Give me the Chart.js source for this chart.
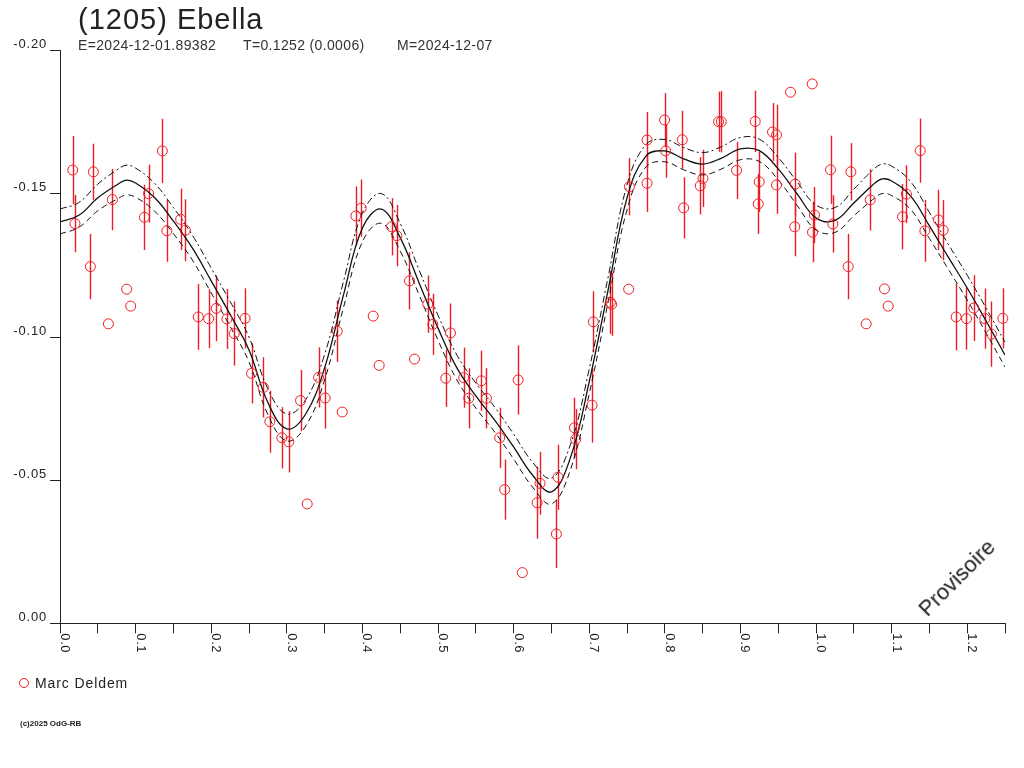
<!DOCTYPE html>
<html lang="fr">
<head>
<meta charset="UTF-8">
<title>(1205) Ebella</title>
<script src="https://cdn.jsdelivr.net/npm/chart.js"></script>
<style>
body { margin: 0; background: #fff; font-family: "Liberation Sans", Arial, sans-serif; color: #222; }
#wrap { position: relative; width: 1024px; height: 768px; overflow: hidden; }
canvas { position: absolute; left: 0; top: 0; }
.txt { position: absolute; white-space: pre; }
#title { left: 78px; top: 5px; font-size: 29px; line-height: 29px; letter-spacing: 1px; }
.sub { top: 38px; font-size: 14px; line-height: 14px; letter-spacing: 0.35px; color: #333; }
#legmark { position: absolute; left: 19px; top: 678px; width: 10px; height: 10px; box-sizing: border-box; border: 1px solid #ee1c25; border-radius: 50%; }
#legtxt { left: 35px; top: 676px; font-size: 14px; line-height: 14px; letter-spacing: 0.9px; }
#copy { left: 20px; top: 720px; font-size: 8px; line-height: 8px; font-weight: bold; }
#prov { left: 957px; top: 578px; font-size: 22px; line-height: 22px; transform: translate(-50%, -50%) rotate(-45deg); }
</style>
</head>
<body>
<div id="wrap">
<canvas id="lc" width="1024" height="768"></canvas>
<div class="txt" id="title">(1205) Ebella</div>
<div class="txt sub" style="left:78px">E=2024-12-01.89382</div>
<div class="txt sub" style="left:243px">T=0.1252 (0.0006)</div>
<div class="txt sub" style="left:397px">M=2024-12-07</div>
<div id="legmark"></div>
<div class="txt" id="legtxt">Marc Deldem</div>
<div class="txt" id="copy">(c)2025 OdG-RB</div>
<div class="txt" id="prov">Provisoire</div>
</div>

<script>
// measurements: phase, relative magnitude, error (null = no error bar)
const phase = [
  0.0168, 0.0198, 0.0442, 0.0402, 0.0693, 0.0882, 0.0935, 0.0640, 0.1354, 0.1172,
  0.1116, 0.1414, 0.1596, 0.1658, 0.1829, 0.1966, 0.2067, 0.2208, 0.2305, 0.2448,
  0.2534, 0.2689, 0.2776, 0.2935, 0.3027, 0.3182, 0.3270, 0.3420, 0.3508, 0.3733,
  0.3667, 0.3913, 0.3984, 0.4143, 0.4222, 0.4385, 0.4455, 0.4623, 0.4689, 0.4865,
  0.4931, 0.5165, 0.5103, 0.5340, 0.5407, 0.5574, 0.5641, 0.5816, 0.5882, 0.6060,
  0.6116, 0.6311, 0.6350, 0.6588, 0.6566, 0.6804, 0.6821, 0.7038, 0.7055, 0.7280,
  0.7297, 0.7522, 0.7531, 0.7765, 0.7765, 0.7997, 0.8011, 0.8231, 0.8249, 0.8469,
  0.8505, 0.8711, 0.8747, 0.8949, 0.9196, 0.9249, 0.9236, 0.9425, 0.9478, 0.9478,
  0.9663, 0.9725, 0.9719, 0.9950, 0.9980, 0.9954,
  1.0192, 1.0223, 1.0461, 1.0426, 1.0717, 1.0906, 1.0955, 1.0664, 1.1378, 1.1196,
  1.1144, 1.1440, 1.1620, 1.1682, 1.1854, 1.1990, 1.2087, 1.2233, 1.2320, 1.2471
];
const mag = [
  -0.1583, -0.1396, -0.1577, -0.1246, -0.1480, -0.1167, -0.1108, -0.1046, -0.1650, -0.1501,
  -0.1418, -0.1371, -0.1411, -0.1373, -0.1070, -0.1064, -0.1100, -0.1063, -0.1012, -0.1065,
  -0.0873, -0.0824, -0.0704, -0.0648, -0.0634, -0.0778, -0.0417, -0.0859, -0.0787, -0.0738,
  -0.1020, -0.1423, -0.1450, -0.1073, -0.0901, -0.1385, -0.1354, -0.1196, -0.0923, -0.1115,
  -0.1044, -0.1014, -0.0856, -0.0858, -0.0786, -0.0847, -0.0786, -0.0648, -0.0467, -0.0850,
  -0.0177, -0.0421, -0.0489, -0.0510, -0.0312, -0.0683, -0.0643, -0.0762, -0.1053, -0.1121,
  -0.1114, -0.1167, -0.1525, -0.1688, -0.1537, -0.1758, -0.1650, -0.1689, -0.1451, -0.1528,
  -0.1554, -0.1752, -0.1752, -0.1582, -0.1753, -0.1542, -0.1465, -0.1716, -0.1706, -0.1531,
  -0.1855, -0.1534, -0.1385, -0.1884, -0.1426, -0.1366,
  -0.1584, -0.1395, -0.1577, -0.1246, -0.1479, -0.1168, -0.1108, -0.1046, -0.1651, -0.1499,
  -0.1420, -0.1371, -0.1409, -0.1373, -0.1070, -0.1064, -0.1101, -0.1064, -0.1010, -0.1065
];
const magErr = [
  0.0119, 0.0100, 0.0098, 0.0114, 0.0107, null, null, null, 0.0112, 0.0101,
  0.0114, 0.0108, 0.0107, 0.0108, 0.0115, 0.0103, 0.0115, 0.0105, 0.0112, 0.0105,
  0.0105, 0.0105, 0.0108, 0.0107, 0.0107, 0.0107, null, 0.0105, 0.0107, null,
  0.0107, 0.0103, 0.0100, null, null, 0.0100, 0.0107, 0.0100, null, 0.0100,
  0.0107, 0.0103, 0.0100, 0.0105, 0.0105, 0.0105, 0.0105, 0.0105, 0.0105, 0.0121,
  null, 0.0126, 0.0110, 0.0114, 0.0119, 0.0105, 0.0105, 0.0131, 0.0107, 0.0110,
  0.0110, null, 0.0100, 0.0098, 0.0100, 0.0094, 0.0094, 0.0101, 0.0107, 0.0100,
  0.0100, 0.0105, 0.0107, 0.0100, 0.0107, 0.0105, 0.0105, 0.0101, 0.0105, 0.0101,
  null, 0.0110, 0.0103, null, 0.0098, 0.0105,
  0.0119, 0.0100, 0.0100, 0.0114, 0.0107, null, null, null, 0.0112, 0.0101,
  0.0114, 0.0108, 0.0105, 0.0105, 0.0117, 0.0108, 0.0115, 0.0105, 0.0114, 0.0105
];

// fitted lightcurve and its envelope
const fitPhase = [
  0, 0.025, 0.05, 0.075, 0.0875, 0.1, 0.125, 0.15, 0.175, 0.2,
  0.225, 0.25, 0.275, 0.3, 0.325, 0.35, 0.375, 0.4, 0.425, 0.45,
  0.475, 0.5, 0.525, 0.55, 0.575, 0.6, 0.625, 0.65, 0.675, 0.7,
  0.725, 0.75, 0.775, 0.8, 0.825, 0.85, 0.875, 0.9, 0.925, 0.95,
  0.975, 1.0, 1.025, 1.05, 1.075, 1.0875, 1.1, 1.125, 1.15, 1.175,
  1.2, 1.225, 1.25
];
const fitMag = [
  -0.1402, -0.1425, -0.1486, -0.1531, -0.1548, -0.1538, -0.1487, -0.1405, -0.1311, -0.1196,
  -0.1079, -0.0955, -0.0771, -0.0679, -0.0731, -0.0892, -0.1147, -0.1381, -0.1447, -0.1347,
  -0.1189, -0.1031, -0.0892, -0.0794, -0.0710, -0.0616, -0.0518, -0.0459, -0.0577, -0.0843,
  -0.1164, -0.1486, -0.1632, -0.1650, -0.1622, -0.1604, -0.1625, -0.1657, -0.1651, -0.1587,
  -0.1500, -0.1416, -0.1407, -0.1468, -0.1531, -0.1552, -0.1545, -0.1493, -0.1388, -0.1279,
  -0.1171, -0.1056, -0.0937
];
const fitUpper = [
  -0.1447, -0.1470, -0.1534, -0.1583, -0.1600, -0.1590, -0.1537, -0.1452, -0.1356, -0.1241,
  -0.1124, -0.1000, -0.0819, -0.0731, -0.0781, -0.0939, -0.1194, -0.1433, -0.1501, -0.1397,
  -0.1234, -0.1076, -0.0937, -0.0839, -0.0755, -0.0661, -0.0563, -0.0507, -0.0623, -0.0888,
  -0.1209, -0.1531, -0.1672, -0.1690, -0.1662, -0.1644, -0.1665, -0.1697, -0.1691, -0.1627,
  -0.1542, -0.1461, -0.1452, -0.1516, -0.1583, -0.1604, -0.1597, -0.1543, -0.1435, -0.1324,
  -0.1216, -0.1101, -0.0982
];
const fitLower = [
  -0.1360, -0.1383, -0.1441, -0.1481, -0.1496, -0.1488, -0.1440, -0.1361, -0.1269, -0.1154,
  -0.1037, -0.0913, -0.0729, -0.0637, -0.0689, -0.0850, -0.1103, -0.1333, -0.1397, -0.1300,
  -0.1147, -0.0989, -0.0850, -0.0752, -0.0668, -0.0574, -0.0476, -0.0417, -0.0535, -0.0801,
  -0.1122, -0.1444, -0.1594, -0.1612, -0.1584, -0.1566, -0.1587, -0.1619, -0.1613, -0.1549,
  -0.1460, -0.1374, -0.1365, -0.1423, -0.1480, -0.1501, -0.1494, -0.1446, -0.1344, -0.1237,
  -0.1129, -0.1014, -0.0895
];

const xTickValues = [0, 0.1, 0.2, 0.3, 0.4, 0.5, 0.6, 0.7, 0.8, 0.9, 1.0, 1.1, 1.2];
const xTickLabels = ['0.0', '0.1', '0.2', '0.3', '0.4', '0.5', '0.6', '0.7', '0.8', '0.9', '1.0', '1.1', '1.2'];

const red = '#ee1c25';
const ink = '#222';
const fontFamily = '"Liberation Sans", Arial, sans-serif';
Chart.defaults.font.family = fontFamily;

const toXY = (xs, ys) => xs.map((v, i) => ({ x: v, y: ys[i] }));

const errorBars = {
  id: 'errorBars',
  beforeDatasetsDraw(chart) {
    const { ctx, scales: { x, y } } = chart;
    ctx.save();
    ctx.strokeStyle = red;
    ctx.lineWidth = 1.4;
    phase.forEach((p, i) => {
      if (magErr[i] == null) return;
      const px = Math.round(x.getPixelForValue(p)) + 0.5;
      ctx.beginPath();
      ctx.moveTo(px, y.getPixelForValue(mag[i] - magErr[i]));
      ctx.lineTo(px, y.getPixelForValue(mag[i] + magErr[i]));
      ctx.stroke();
    });
    ctx.restore();
  }
};

const letterSpace = {
  id: 'letterSpace',
  beforeDraw(chart) { chart.ctx.letterSpacing = '0.8px'; }
};

const xLabels = {
  id: 'xLabels',
  afterDraw(chart) {
    const { ctx, scales: { x } } = chart;
    ctx.save();
    ctx.fillStyle = ink;
    ctx.font = '13px ' + fontFamily;
    ctx.letterSpacing = '0.6px';
    ctx.textAlign = 'left';
    ctx.textBaseline = 'alphabetic';
    xTickValues.forEach((v, i) => {
      const px = x.getPixelForValue(v);
      ctx.save();
      ctx.translate(px + 1, x.top + 10);
      ctx.rotate(Math.PI / 2);
      ctx.fillText(xTickLabels[i], 0, 0);
      ctx.restore();
    });
    ctx.restore();
  }
};

const curve = (label, ys, width, dash) => ({
  label: label,
  data: toXY(fitPhase, ys),
  showLine: true,
  borderColor: '#111',
  borderWidth: width,
  borderDash: dash,
  pointRadius: 0,
  tension: 0.4,
  order: 1
});

new Chart(document.getElementById('lc'), {
  type: 'scatter',
  data: {
    datasets: [
      {
        label: 'Marc Deldem',
        data: toXY(phase, mag),
        pointStyle: 'circle',
        pointRadius: 5,
        pointBorderWidth: 1,
        pointBorderColor: red,
        pointBackgroundColor: 'rgba(0,0,0,0)',
        clip: false,
        order: 0
      },
      curve('fit', fitMag, 1.3, []),
      curve('upper', fitUpper, 1, [7, 3, 2, 3]),
      curve('lower', fitLower, 1, [6, 4])
    ]
  },
  options: {
    responsive: false,
    animation: false,
    events: [],
    layout: { padding: { top: 50.7, right: 19, bottom: 0, left: 0 } },
    plugins: { legend: { display: false }, tooltip: { enabled: false } },
    scales: {
      x: {
        type: 'linear',
        min: 0,
        max: 1.25,
        offset: false,
        afterFit: s => { s.height = 144.7; },
        border: { color: ink, width: 1 },
        grid: { drawOnChartArea: false, drawTicks: true, tickLength: 10, color: ink },
        ticks: { stepSize: 0.05, autoSkip: false, maxRotation: 0, callback: () => '' }
      },
      y: {
        type: 'linear',
        min: -0.2,
        max: 0,
        reverse: true,
        afterFit: s => { s.width = 60; },
        border: { color: ink, width: 1 },
        grid: { drawOnChartArea: false, drawTicks: true, tickLength: 10, color: ink },
        ticks: {
          stepSize: 0.05,
          color: ink,
          font: { size: 13 },
          padding: 3,
          labelOffset: -6,
          callback: v => Number(v).toFixed(2)
        }
      }
    }
  },
  plugins: [letterSpace, errorBars, xLabels]
});
</script>
</body>
</html>
